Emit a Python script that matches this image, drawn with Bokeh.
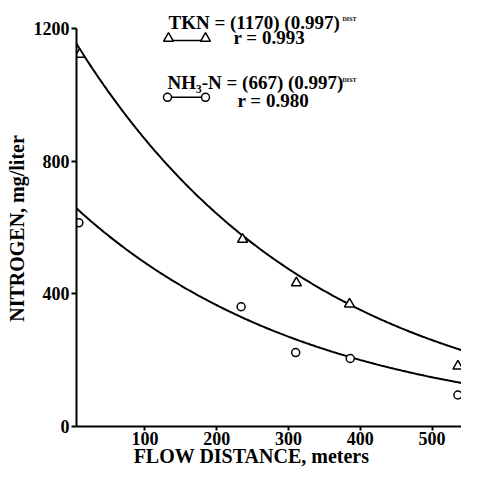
import numpy as np
from bokeh.plotting import figure
from bokeh.models import Range1d, FixedTicker, Label
from bokeh.embed import file_html
from bokeh.resources import INLINE

# ---- data ----
dist_tkn = [9, 236, 311, 385, 536]
tkn_vals = [1122, 564, 433, 369, 182]
dist_nh3 = [8, 234, 310, 386, 536]
nh3_vals = [614, 361, 223, 205, 95]
tkn_coef = 1170
nh3_coef = 667
decay = 0.997
x_ticks = [100, 200, 300, 400, 500]
y_ticks = [0, 400, 800, 1200]
x_title = "FLOW DISTANCE, meters"
y_title = "NITROGEN, mg/liter"
tkn_eq = "TKN = (1170) (0.997)"
tkn_r = "r = 0.993"
nh3_eq = "NH\u2083-N = (667) (0.997)"
nh3_r = "r = 0.980"
sup = "DIST"

# ---- layout (figure pixels) ----
W, H = 461, 469
FL, FR, FT, FB = 76, W, 0, 427          # frame edges inside the figure
X0, X1 = 4.7, 541.0
Y0 = 0.0
Y1 = 1200.0 * (FB - FT) / (FB - 28)     # 1200 sits 28 px from the top
SX = (FR - FL) / (X1 - X0)
SY = (FB - FT) / (Y1 - Y0)

def px2x(px):
    return X0 + (px - FL) / SX

def py2y(py):
    return (FB - py) / SY

SERIF = "Liberation Serif"
NBSP = "\u00a0"

p = figure(width=W, height=H, x_range=Range1d(X0, X1), y_range=Range1d(Y0, Y1),
           output_backend="svg", toolbar_location=None,
           min_border_left=FL, min_border_right=0, min_border_top=FT,
           min_border_bottom=H - FB)
p.outline_line_color = None
p.xgrid.visible = False
p.ygrid.visible = False
p.background_fill_color = "white"

# fitted curves from the equations on the chart
xs = np.linspace(X0, X1, 300)
p.line(xs, tkn_coef * decay ** xs, line_color="black", line_width=2)
p.line(xs, nh3_coef * decay ** xs, line_color="black", line_width=2)

p.scatter(dist_tkn, tkn_vals, marker="triangle", size=10, fill_color="white",
          line_color="black", line_width=1.5)
p.scatter(dist_nh3, nh3_vals, marker="circle", size=8, fill_color="white",
          line_color="black", line_width=1.5)

# axes
for ax in (p.xaxis, p.yaxis):
    ax.axis_line_width = 2
    ax.axis_line_color = "black"
    ax.major_tick_line_width = 2
    ax.major_tick_line_color = "black"
    ax.minor_tick_line_color = None
    ax.major_tick_in = 0
    ax.major_label_text_font = SERIF
    ax.major_label_text_font_style = "bold"
    ax.major_label_text_font_size = "18px"
    ax.major_label_text_color = "black"
    ax.axis_label_text_font = SERIF
    ax.axis_label_text_font_style = "bold"
    ax.axis_label_text_font_size = "20px"
    ax.axis_label_text_color = "black"

p.xaxis.ticker = FixedTicker(ticks=x_ticks)
p.xaxis.bounds = (X0, X1)
p.xaxis.major_tick_out = 4
p.xaxis.major_label_standoff = 1
p.xaxis.axis_label = x_title + NBSP * 7
p.xaxis.axis_label_standoff = -3

p.yaxis.ticker = FixedTicker(ticks=y_ticks)
p.yaxis.bounds = (0, 1200)
p.yaxis.major_tick_out = 5
p.yaxis.major_label_standoff = 2
p.yaxis.axis_label = y_title + NBSP * 6
p.yaxis.axis_label_standoff = 3

# legend key
tri_y = py2y(40)
cir_y = py2y(97)
key_x = [px2x(168), px2x(205)]
p.line(key_x, [tri_y, tri_y], line_color="black", line_width=1.5)
p.scatter(key_x, [tri_y + 2 / SY, tri_y + 2 / SY], marker="triangle", size=10,
          fill_color="white", line_color="black", line_width=1.5)
key_x2 = [px2x(167), px2x(205)]
p.line(key_x2, [cir_y, cir_y], line_color="black", line_width=1.5)
p.scatter(key_x2, [cir_y, cir_y], marker="circle", size=8,
          fill_color="white", line_color="black", line_width=1.5)

def lab(txt, px, py, size):
    p.add_layout(Label(x=px2x(px), y=py2y(py), text=txt, text_align="left",
                       text_baseline="alphabetic", text_font=SERIF,
                       text_font_style="bold", text_font_size=size,
                       text_color="black"))

lab(tkn_eq, 168, 22, "19px")
lab(sup, 342, 19, "6px")
lab(tkn_r, 233, 37, "19px")
lab(nh3_eq, 167, 82, "19px")
lab(sup, 342, 80, "6px")
lab(nh3_r, 237, 100, "19px")

open("out.html", "w").write(file_html(p, INLINE))
